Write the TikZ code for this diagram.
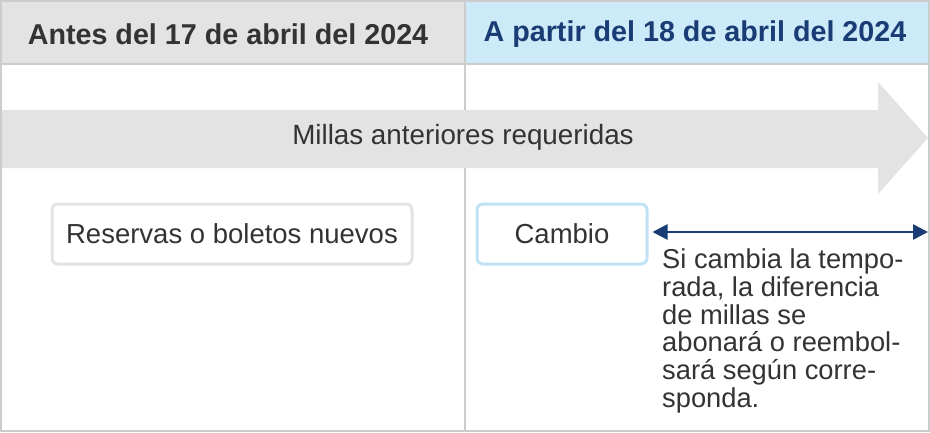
\documentclass[tikz,border=0pt]{standalone}
\usepackage{fontspec}
\setmainfont{Liberation Sans}
\usetikzlibrary{arrows.meta}
\definecolor{hdrgray}{HTML}{E3E3E3}
\definecolor{hdrblue}{HTML}{CDEAF8}
\definecolor{navy}{HTML}{1A3C74}
\definecolor{txt}{HTML}{333333}
\definecolor{lineg}{HTML}{CCCCCC}
\definecolor{boxblue}{HTML}{BFE3F5}
\tikzset{
  hdr/.style={font=\fontsize{28.7}{31}\selectfont\bfseries, anchor=center},
  boxstyle/.style={draw, line width=3pt, rounded corners=6pt, fill=white, text=txt, font=\fontsize{27.5}{30}\selectfont, minimum height=60pt, inner sep=0pt},
  body/.style={text=txt, font=\fontsize{27.8}{30}\selectfont}
}
\begin{document}
\begin{tikzpicture}[x=1pt,y=-1pt]
\useasboundingbox (0,0) rectangle (930,432);
\fill[white] (0,0) rectangle (930,432);
% headers
\fill[hdrgray] (0,0) rectangle (465,64);
\fill[hdrblue] (465,0) rectangle (930,64);
\draw[lineg, line width=1.5pt] (0,64) -- (930,64);
\draw[lineg, line width=1.5pt] (465,0) -- (465,432);
\node[hdr, text=txt] (h1) at (228,34) {Antes del 17 de abril del 2024};
\node[hdr, text=navy] (h2) at (695,34) {A partir del 18 de abril del 2024};
% big arrow
\fill[hdrgray] (0,110) -- (878,110) -- (878,82) -- (928,138) -- (878,194) -- (878,168) -- (0,168) -- cycle;
\node[body] (m) at (463,137) {Millas anteriores requeridas};
% boxes
\node[boxstyle, draw=hdrgray, minimum width=360pt] (r) at (232,234) {Reservas o boletos nuevos};
\node[boxstyle, draw=boxblue, minimum width=170pt] (c) at (562,234) {Cambio};
\coordinate (e) at (928,232);
\draw[navy, line width=2.5pt, {Triangle[length=15pt,width=15pt]}-{Triangle[length=15pt,width=15pt]}] (c.east |- e) ++(4,0) -- (e);
\node[body, anchor=north west, align=left, inner sep=0pt, font=\fontsize{27.3}{27.8}\selectfont] (t) at (662,248.5) {Si cambia la tempo-\\rada, la diferencia\\de millas se\\abonar\'a o reembol-\\sar\'a seg\'un corre-\\sponda.};
% outer border
\draw[lineg, line width=2pt] (1,1) rectangle (929,431);
\end{tikzpicture}
\end{document}
